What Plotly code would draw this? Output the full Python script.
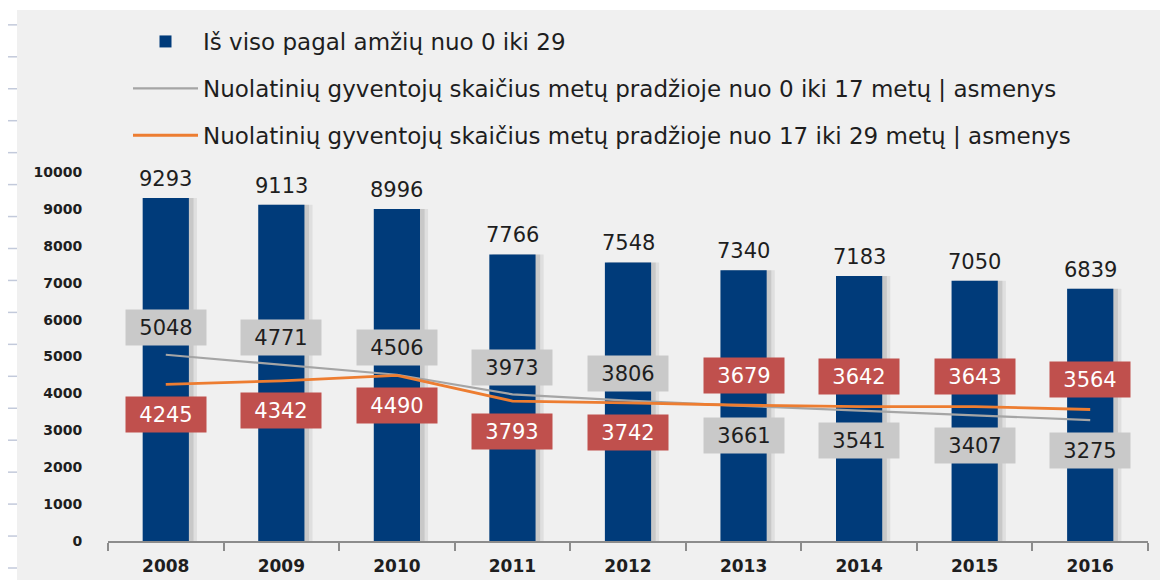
import plotly.graph_objects as go

years = ["2008", "2009", "2010", "2011", "2012", "2013", "2014", "2015", "2016"]
total_0_29 = [9293, 9113, 8996, 7766, 7548, 7340, 7183, 7050, 6839]
age_0_17 = [5048, 4771, 4506, 3973, 3806, 3661, 3541, 3407, 3275]
age_17_29 = [4245, 4342, 4490, 3793, 3742, 3679, 3642, 3643, 3564]
y_ticks = [0, 1000, 2000, 3000, 4000, 5000, 6000, 7000, 8000, 9000, 10000]

name_bar = "Iš viso pagal amžių nuo 0 iki 29"
name_gray = "Nuolatinių gyventojų skaičius metų pradžioje nuo 0 iki 17 metų | asmenys"
name_orange = "Nuolatinių gyventojų skaičius metų pradžioje nuo 17 iki 29 metų | asmenys"

BAR = "#003B7A"
GRAY = "#A5A5A5"
ORANGE = "#ED7D31"
RED_BOX = "#C0504D"
GRAY_BOX = "#C9C9C9"
BG = "#F0F0F0"
FONT = "DejaVu Sans"

OFF = 8  # page body margin
W, H = 1168 - OFF, 580 - OFF
ML, MR, MT, MB = 17 - OFF, 20, 10 - OFF, 10
PW, PH = W - ML - MR, H - MT - MB


def px_x(p):
    return (p - OFF - ML) / PW


def px_y(p):
    return (H - MB - (p - OFF)) / PH


fig = go.Figure()

# soft shadow behind bars
fig.add_trace(go.Bar(
    x=years, y=total_0_29, width=0.44, offset=-0.17,
    marker=dict(color="rgba(0,0,0,0.07)", line=dict(width=0)),
    showlegend=False, hoverinfo="skip", legendgroup="s"))
fig.add_trace(go.Bar(
    x=years, y=total_0_29, width=0.42, offset=-0.18,
    marker=dict(color="rgba(0,0,0,0.10)", line=dict(width=0)),
    showlegend=False, hoverinfo="skip", legendgroup="s"))

fig.add_trace(go.Bar(
    x=years, y=total_0_29, name=name_bar, width=0.40, offset=-0.20,
    marker=dict(color=BAR, line=dict(width=0)), legendgroup="a"))

fig.add_trace(go.Scatter(
    x=years, y=age_0_17, name=name_gray, mode="lines",
    line=dict(color=GRAY, width=2.2), legendgroup="b"))

fig.add_trace(go.Scatter(
    x=years, y=age_17_29, name=name_orange, mode="lines",
    line=dict(color=ORANGE, width=2.8), legendgroup="c"))

ann = []
for i, v in enumerate(total_0_29):
    ann.append(dict(x=i, y=v, xref="x", yref="y", text=str(v), showarrow=False,
                    yanchor="bottom", yshift=5,
                    font=dict(family=FONT, size=21, color="#1E1E1E")))

for i, (g, o) in enumerate(zip(age_0_17, age_17_29)):
    g_up = g >= o
    ann.append(dict(x=i, y=g, xref="x", yref="y", text=str(g), showarrow=False,
                    yshift=27 if g_up else -30, width=78, height=33,
                    bgcolor=GRAY_BOX, font=dict(family=FONT, size=21, color="#1E1E1E")))
    ann.append(dict(x=i, y=o, xref="x", yref="y", text=str(o), showarrow=False,
                    yshift=-30 if g_up else 30, width=78, height=33,
                    bgcolor=RED_BOX, font=dict(family=FONT, size=21, color="white")))

shapes = [dict(type="rect", xref="paper", yref="paper",
               x0=0, x1=1.05, y0=-0.05, y1=1,
               fillcolor=BG, line=dict(width=0), layer="below")]
# decorative tick column at the far left
for k in range(18):
    yy = 568 - k * 31.95
    shapes.append(dict(type="line", xref="paper", yref="paper",
                       x0=px_x(7), x1=px_x(17), y0=px_y(yy), y1=px_y(yy),
                       line=dict(color="#C3CADB", width=1.5)))

fig.update_layout(
    width=W, height=H,
    margin=dict(l=ML, r=MR, t=MT, b=MB, autoexpand=False),
    paper_bgcolor="white",
    plot_bgcolor="rgba(0,0,0,0)",
    barmode="overlay",
    font=dict(family=FONT, color="#1E1E1E"),
    shapes=shapes,
    annotations=ann,
    xaxis=dict(
        domain=[px_x(108), 1],
        type="category", range=[-0.5, 8.5],
        showline=True, linecolor="#8C8C8C", linewidth=1.5,
        ticks="outside", tickson="boundaries", ticklen=8, tickcolor="#8C8C8C", tickwidth=1.5,
        ticklabelstandoff=9,
        showgrid=False, zeroline=False, automargin=False,
        tickfont=dict(family=FONT, size=17, color="#1E1E1E", weight="bold"),
    ),
    yaxis=dict(
        domain=[px_y(541), px_y(172)],
        range=[0, 10000], tickvals=y_ticks, ticktext=[str(t) for t in y_ticks],
        showgrid=False, zeroline=False, showline=False, automargin=False,
        ticks="outside", ticklen=22, tickcolor="rgba(0,0,0,0)",
        tickfont=dict(family=FONT, size=14, color="#1E1E1E", weight="bold"),
    ),
    legend=dict(
        x=px_x(128), y=px_y(20), xanchor="left", yanchor="top",
        bgcolor="rgba(0,0,0,0)",
        font=dict(family=FONT, size=23, color="#1E1E1E"),
        traceorder="grouped", tracegroupgap=14,
        itemwidth=65,
    ),
)

fig.write_html("out.html")
